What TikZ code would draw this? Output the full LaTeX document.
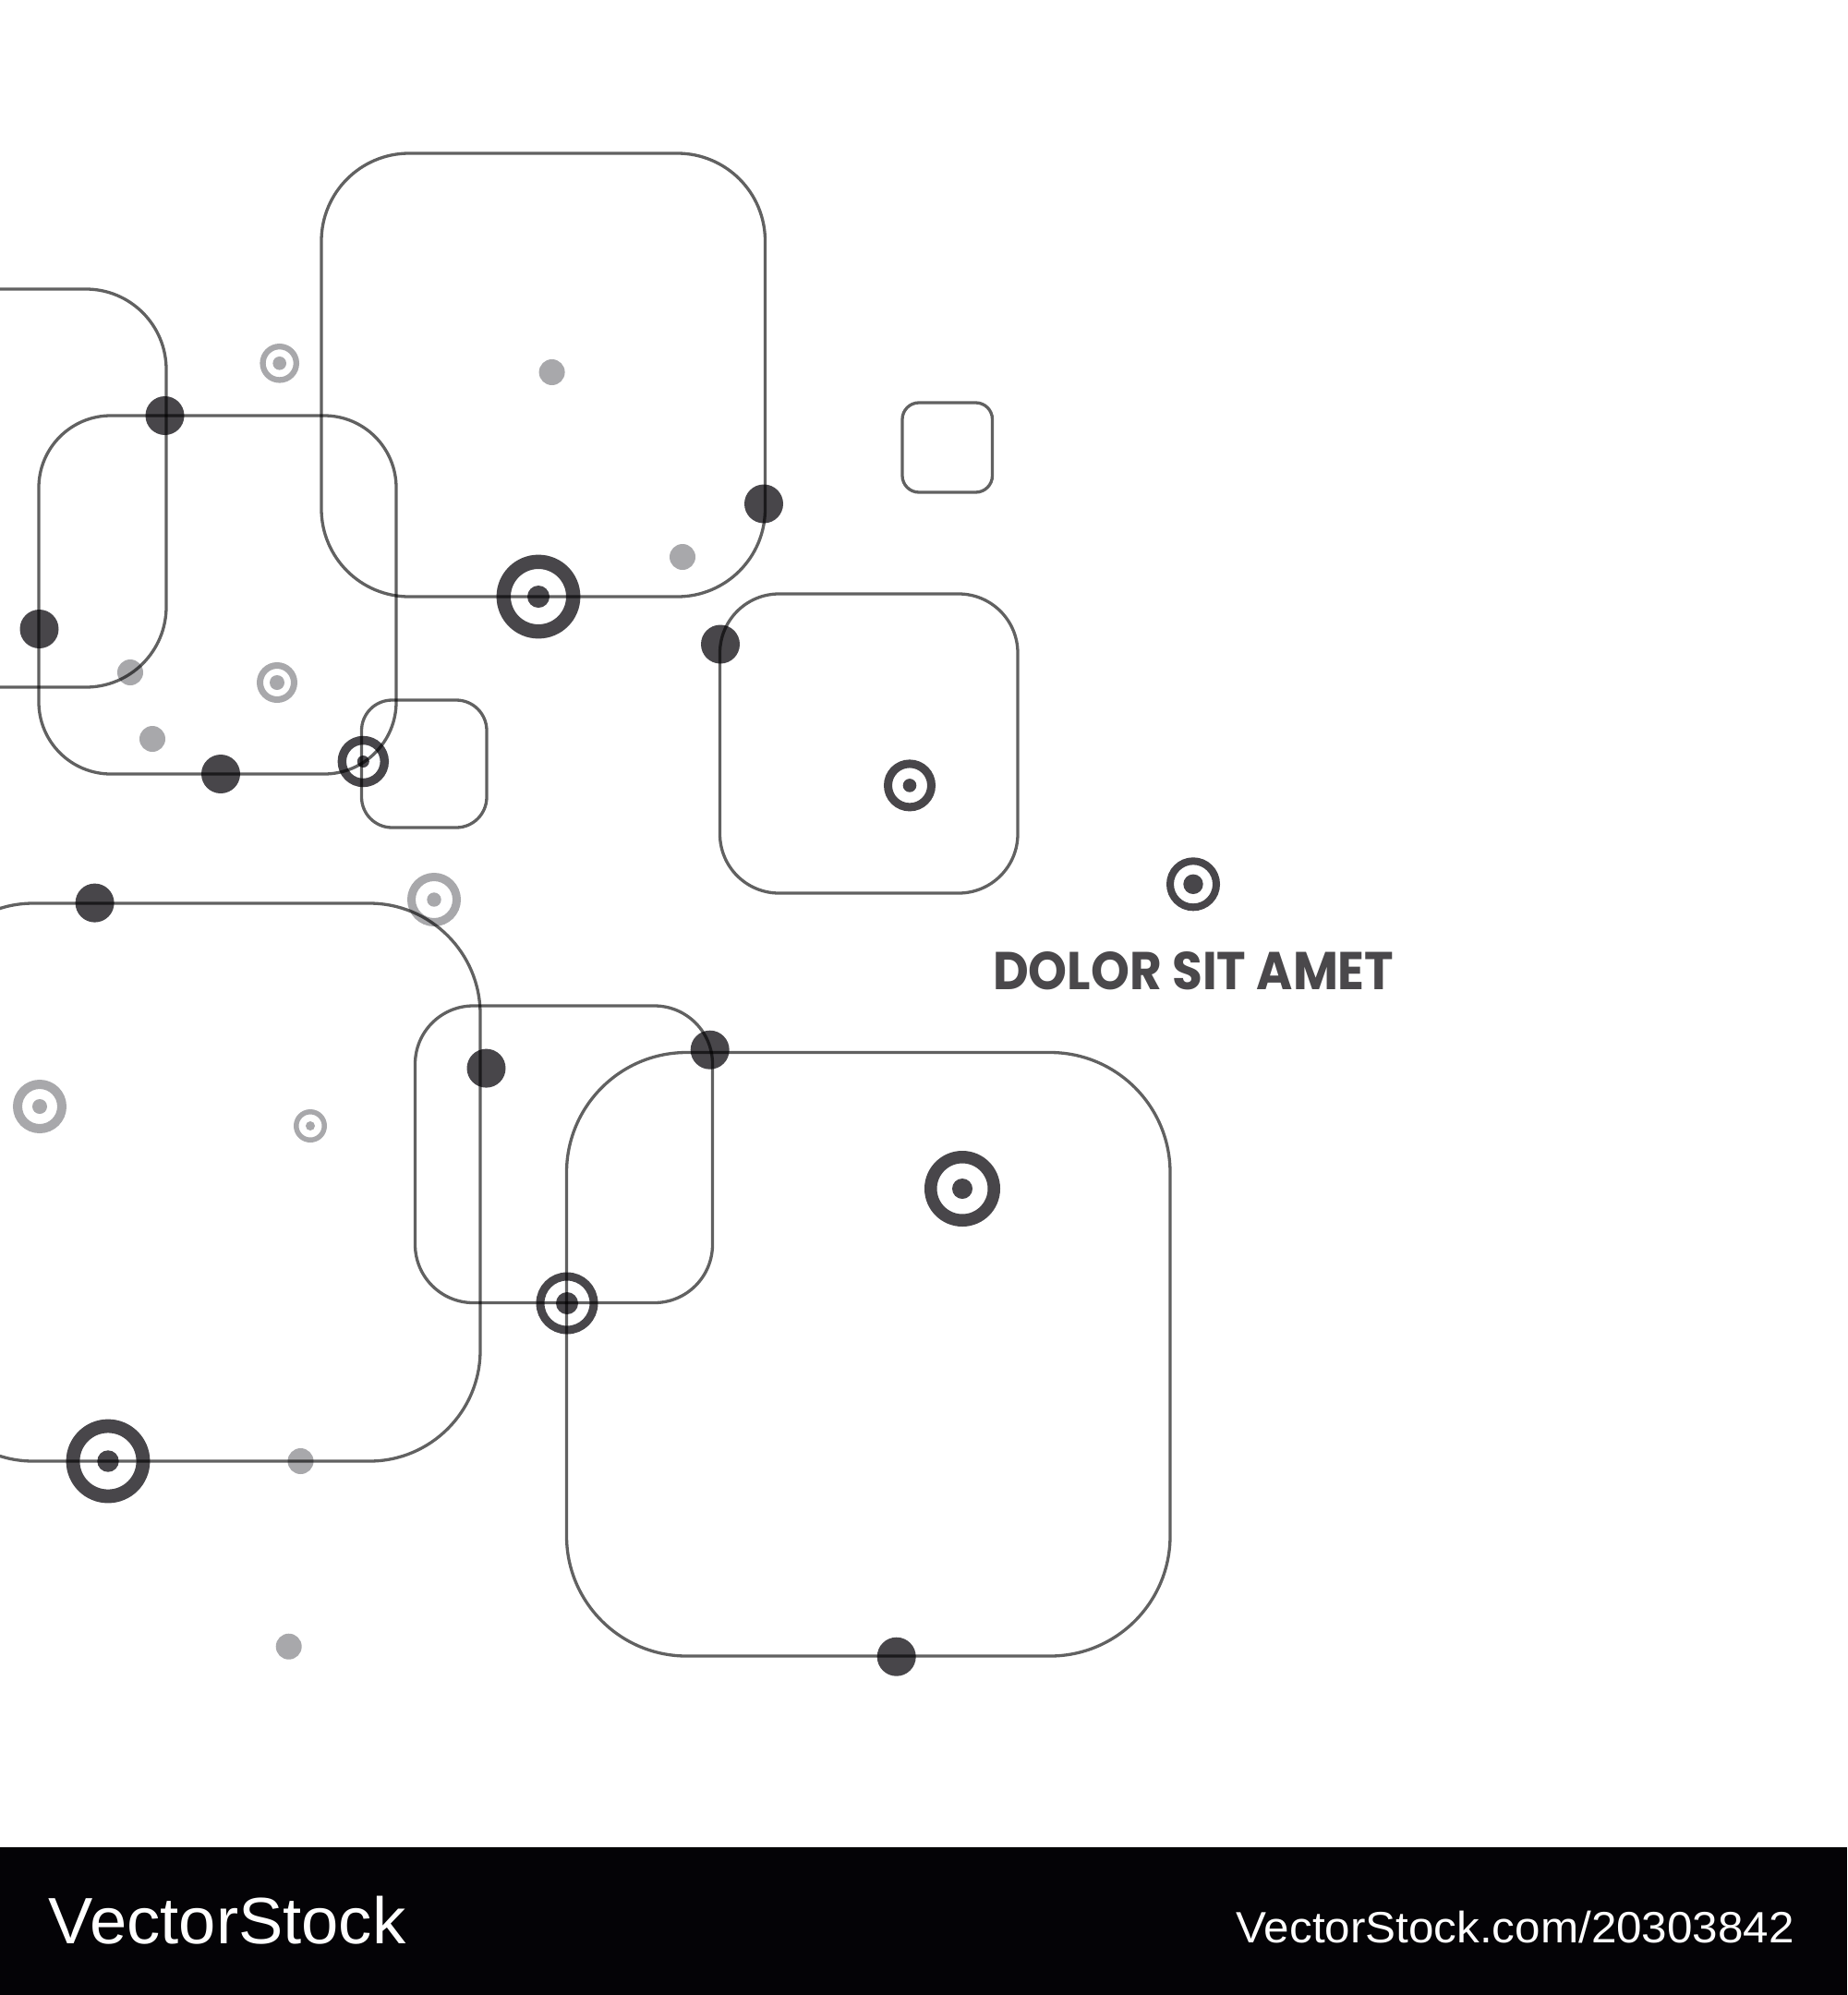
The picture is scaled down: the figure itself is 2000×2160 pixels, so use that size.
\documentclass[tikz,border=0pt]{standalone}
\usepackage{fontspec}
\usepackage{graphicx}
\setmainfont{Liberation Sans}
\newfontfamily\arialfont{Liberation Sans}
\newfontfamily\popfont{Poppins}
\definecolor{darkdot}{HTML}{48464A}
\definecolor{graydot}{HTML}{A8A8AB}
\definecolor{banner}{HTML}{040306}
\definecolor{titletext}{HTML}{4A484B}
\tikzset{
  sq/.style={draw=black, draw opacity=0.62, line width=3.3pt},
}
\newcommand\ringat[6]{%
  \draw[draw=#6, line width={(#3-#4)*1pt}] (#1,#2) circle [radius={(#3+#4)/2*1pt}];
  \fill[#6] (#1,#2) circle [radius={#5*1pt}];}
\newcommand\dotat[4]{\fill[#4] (#1,#2) circle [radius={#3*1pt}];}
\begin{document}
\begin{tikzpicture}[x=1pt,y=-1pt]
\useasboundingbox (0,0) rectangle (2000,2160);
\fill[white] (0,0) rectangle (2000,2160);
% banner
\fill[banner] (0,2000) rectangle (2000,2160);
\node[anchor=base west, inner sep=0, text=white, font=\arialfont\fontsize{71}{71}\selectfont] (brand) at (52.7,2104) {\scalebox{1.02}[1]{VectorStock}};
\node[anchor=base east, inner sep=0, text=white, font=\arialfont\fontsize{47.5}{47.5}\selectfont] (url) at (1943,2103.3) {\scalebox{1.04}[1]{VectorStock.com/20303842}};
% title
\node[anchor=base west, inner sep=0, text=titletext] (title) at (1075,1071) {\resizebox{434pt}{41pt}{\popfont\bfseries DOLOR SIT AMET}};
% dark dots
\dotat{178.5}{450}{21}{darkdot}
\dotat{42.5}{681}{21}{darkdot}
\dotat{239}{838}{21}{darkdot}
\dotat{827}{545.5}{21}{darkdot}
\dotat{780}{697.5}{21}{darkdot}
\dotat{102.6}{977.6}{21}{darkdot}
\dotat{526.5}{1156.6}{21}{darkdot}
\dotat{768.7}{1136.7}{21}{darkdot}
\dotat{970.7}{1793.7}{21}{darkdot}
% gray dots
\dotat{141}{728}{14}{graydot}
\dotat{165}{800}{14}{graydot}
\dotat{597.6}{403}{14}{graydot}
\dotat{739}{603}{14}{graydot}
\dotat{325.5}{1582}{14}{graydot}
\dotat{312.7}{1782.7}{14}{graydot}
% rings
\ringat{302.7}{393.3}{21.3}{15}{7.3}{graydot}
\ringat{300}{739}{22}{15}{8}{graydot}
\ringat{393.3}{824.5}{27.7}{18.3}{6.5}{darkdot}
\ringat{583}{646}{45.4}{30}{12}{darkdot}
\ringat{985}{850.4}{28}{19}{7.3}{darkdot}
\ringat{1292}{957.3}{29}{21}{10.7}{darkdot}
\ringat{470}{974}{29}{20}{7.7}{graydot}
\ringat{43}{1198}{29}{19}{8}{graydot}
\ringat{336}{1219}{18}{12.5}{5}{graydot}
\ringat{1042}{1287}{41}{27.5}{11}{darkdot}
\ringat{614}{1411}{33.5}{24.5}{12}{darkdot}
\ringat{117}{1582}{45.4}{30.6}{11.7}{darkdot}
% rounded squares
\draw[sq, rounded corners=87pt] (-300,313) rectangle (180,744);
\draw[sq, rounded corners=78pt] (42,450) rectangle (429,838);
\draw[sq, rounded corners=33pt] (391.5,758) rectangle (527,896);
\draw[sq, rounded corners=95pt] (348,166) rectangle (828.5,646);
\draw[sq, rounded corners=64pt] (779.5,643) rectangle (1102,967);
\draw[sq, rounded corners=18pt] (977,436) rectangle (1074.5,533);
\draw[sq, rounded corners=120pt] (-84,978) rectangle (520,1582);
\draw[sq, rounded corners=63pt] (449.5,1089) rectangle (771.5,1410.5);
\draw[sq, rounded corners=130pt] (613.5,1139.5) rectangle (1267,1793);
\end{tikzpicture}
\end{document}
